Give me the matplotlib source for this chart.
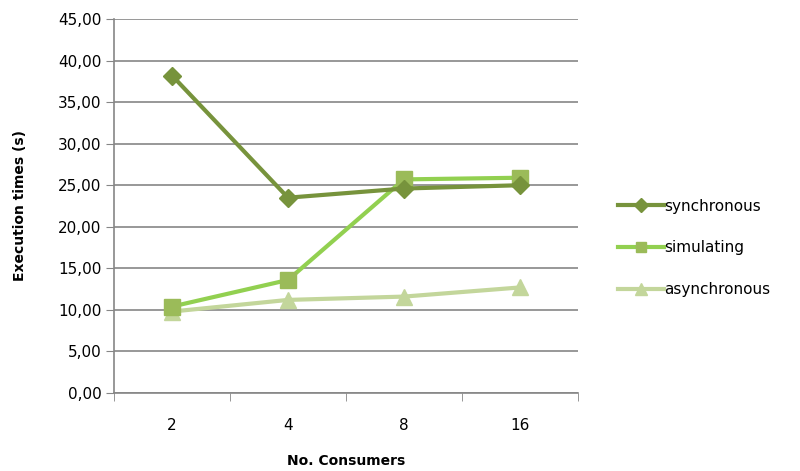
import matplotlib
matplotlib.use("Agg")
import matplotlib.pyplot as plt
import numpy as np

categories = ["2", "4", "8", "16"]
synchronous = [38.2, 23.5, 24.6, 25.0]
simulating = [10.4, 13.6, 25.7, 25.9]
asynchronous = [9.8, 11.2, 11.6, 12.7]
y_ticks = [0, 5, 10, 15, 20, 25, 30, 35, 40, 45]
y_tick_labels = [f"{v:.2f}".replace(".", ",") for v in y_ticks]

plt.rcParams['font.family'] = ['DejaVu Sans']

fig = plt.figure(figsize=(8, 4.71), dpi=100)
ax = fig.add_axes([0.1425, 0.1656, 0.58, 0.7941])

x = np.arange(len(categories))
grid_col = "#868686"

ax.plot(x, synchronous, color="#77933c", lw=3, marker="D", ms=9.5,
        mfc="#77933c", mec="#77933c", label="synchronous", zorder=4)
ax.plot(x, simulating, color="#92d050", lw=3, marker="s", ms=11,
        mfc="#9bbb59", mec="#9bbb59", label="simulating", zorder=3)
ax.plot(x, asynchronous, color="#c3d69b", lw=3, marker="^", ms=12,
        mfc="#c3d69b", mec="#c3d69b", label="asynchronous", zorder=2)

ax.set_xlim(-0.5, len(categories) - 0.5)
ax.set_ylim(0, 45)
ax.set_yticks(y_ticks)
ax.set_yticklabels(y_tick_labels, fontsize=11)
ax.set_xticks(x)
ax.set_xticklabels(categories, fontsize=11)
ax.set_xticks(np.arange(-0.5, len(categories)), minor=True)
ax.tick_params(axis="x", which="major", length=0, pad=18)
ax.tick_params(axis="x", which="minor", length=6, color=grid_col, direction="out")
ax.tick_params(axis="y", length=6, color=grid_col, direction="out", pad=3)

ax.yaxis.grid(True, color=grid_col, lw=1.2)
ax.set_axisbelow(True)
for s in ["top", "right"]:
    ax.spines[s].set_visible(False)
for s in ["left", "bottom"]:
    ax.spines[s].set_color(grid_col)
    ax.spines[s].set_linewidth(1.2)

ax.set_ylabel("Execution times (s)", fontsize=10, fontweight="bold", labelpad=22)
ax.set_xlabel("No. Consumers", fontsize=10, fontweight="bold", labelpad=15)

leg = fig.legend(loc="center left", bbox_to_anchor=(0.755, 0.474), frameon=False,
                 fontsize=11, labelspacing=1.75, handlelength=3.0, handletextpad=0.05,
                 markerscale=0.7)

fig.savefig("out.png", dpi=100)
